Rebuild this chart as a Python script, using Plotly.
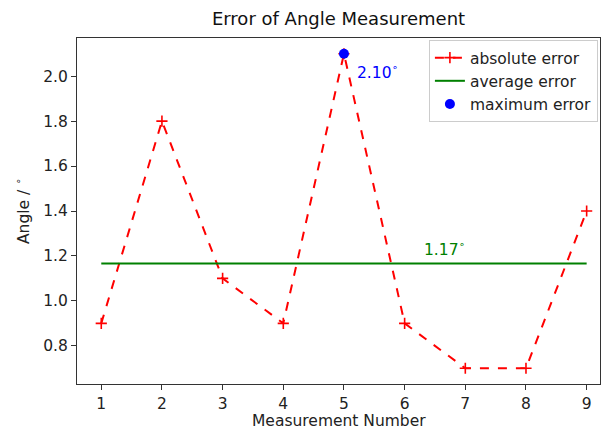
import plotly.graph_objects as go

measurement = [1, 2, 3, 4, 5, 6, 7, 8, 9]
abs_error = [0.9, 1.8, 1.1, 0.9, 2.1, 0.9, 0.7, 0.7, 1.4]
avg_error = sum(abs_error) / len(abs_error)
max_idx = abs_error.index(max(abs_error))
x_ticks = [1, 2, 3, 4, 5, 6, 7, 8, 9]
y_ticks = [0.8, 1.0, 1.2, 1.4, 1.6, 1.8, 2.0]

font = "DejaVu Sans"
fs = 15.5
fig = go.Figure()
fig.add_trace(go.Scatter(
    x=measurement, y=abs_error, mode="lines+markers", name="absolute error",
    line=dict(color="red", dash="dash", width=2),
    marker=dict(symbol="cross-thin", size=8, line=dict(color="red", width=1.6), color="red"),
))
fig.add_trace(go.Scatter(
    x=[measurement[0], measurement[-1]], y=[avg_error, avg_error], mode="lines",
    name="average error", line=dict(color="green", width=2),
))
fig.add_trace(go.Scatter(
    x=[measurement[max_idx]], y=[abs_error[max_idx]], mode="markers",
    name="maximum error", marker=dict(color="blue", size=10),
))

fig.add_annotation(x=measurement[max_idx] + 0.18, y=abs_error[max_idx] - 0.08,
                   text="%.2f<sup>∘</sup>" % abs_error[max_idx], showarrow=False,
                   xanchor="left", yanchor="middle", font=dict(color="blue", size=fs, family=font))
fig.add_annotation(x=6.29, y=avg_error + 0.065,
                   text="%.2f<sup>∘</sup>" % avg_error, showarrow=False,
                   xanchor="left", yanchor="middle", font=dict(color="green", size=fs, family=font))

# axis titles
fig.add_annotation(x=0.5, y=0, xref="paper", yref="paper", yshift=-37,
                   text="Measurement Number", showarrow=False, xanchor="center", yanchor="middle",
                   font=dict(size=fs, family=font, color="#222"))
fig.add_annotation(x=0, y=0.5, xref="paper", yref="paper", xshift=-55, textangle=-90,
                   text="Angle / <sup>∘</sup>", showarrow=False, xanchor="center", yanchor="middle",
                   font=dict(size=fs, family=font, color="#222"))

axis_common = dict(showline=True, linecolor="#333", linewidth=1, mirror=True,
                   ticks="outside", ticklen=5, tickcolor="#333", showgrid=False,
                   zeroline=False, automargin=False,
                   tickfont=dict(size=fs, color="#222", family=font))
fig.update_xaxes(range=[0.6, 9.22], tickvals=x_ticks, **axis_common)
fig.update_yaxes(range=[0.63, 2.17], tickvals=y_ticks, tickformat=".1f", **axis_common)

fig.update_layout(
    width=607, height=422,
    margin=dict(l=69, r=15, t=30, b=46),
    paper_bgcolor="white", plot_bgcolor="white",
    title=dict(text="Error of Angle Measurement", x=0.5, xanchor="center", y=0.975, yanchor="middle",
               xref="paper", font=dict(size=18, family=font, color="#111")),
    legend=dict(x=0.996, y=0.994, xanchor="right", yanchor="top",
                bordercolor="#ccc", borderwidth=1, bgcolor="rgba(255,255,255,0.9)",
                font=dict(size=fs, family=font, color="#222"), tracegroupgap=2, itemwidth=30),
    showlegend=True,
)

fig.write_html("out.html")
